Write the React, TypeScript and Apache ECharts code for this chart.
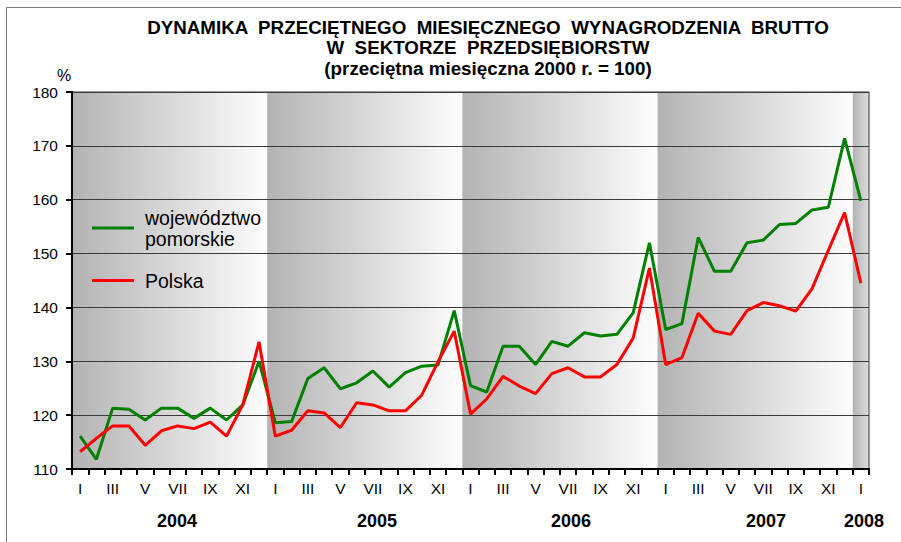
import React, { useEffect, useRef } from "react";
import * as echarts from "echarts";

const years = ["2004", "2005", "2006", "2007", "2008"];
const monthsPerYear = [12, 12, 12, 12, 1];
const romanMonths = ["I", "II", "III", "IV", "V", "VI", "VII", "VIII", "IX", "X", "XI", "XII"];

const pomorskie = [
  116.1, 111.8, 121.3, 121.1, 119.1, 121.3, 121.3, 119.4, 121.3, 119.1, 121.9, 130.0,
  118.6, 118.8, 126.8, 128.8, 124.9, 126.0, 128.2, 125.2, 127.9, 129.1, 129.3, 139.4,
  125.5, 124.3, 132.8, 132.8, 129.4, 133.7, 132.8, 135.3, 134.7, 135.0, 139.0, 152.0,
  135.9, 137.0, 153.0, 146.7, 146.7, 152.0, 152.5, 155.4, 155.6, 158.1, 158.6, 171.4,
  159.8,
];

const polska = [
  113.2, 115.7, 118.0, 118.0, 114.4, 117.1, 118.0, 117.5, 118.7, 116.1, 121.9, 133.6,
  116.1, 117.2, 120.8, 120.4, 117.7, 122.3, 121.9, 120.8, 120.8, 123.7, 129.9, 135.6,
  120.2, 123.0, 127.2, 125.4, 124.0, 127.7, 128.8, 127.1, 127.1, 129.4, 134.3, 147.3,
  129.4, 130.7, 138.9, 135.6, 135.0, 139.4, 140.9, 140.3, 139.3, 143.5, 150.6, 157.6,
  144.5,
];

const seriesNames = ["województwo\npomorskie", "Polska"];
const titleLines = [
  "DYNAMIKA  PRZECIĘTNEGO  MIESIĘCZNEGO  WYNAGRODZENIA  BRUTTO",
  "W  SEKTORZE  PRZEDSIĘBIORSTW",
  "(przeciętna miesięczna 2000 r. = 100)",
];
const yMin = 110;
const yMax = 180;
const yStep = 10;

const FONT = "'Liberation Sans', Arial, Helvetica, sans-serif";
const AXIS = "#000000";

export default function App() {
  const ref = useRef<HTMLDivElement>(null);

  useEffect(() => {
    if (!ref.current) return;
    const chart = echarts.init(ref.current, null, { renderer: "svg" });

    const categories: string[] = [];
    const bands: number[][] = [];
    let start = 0;
    years.forEach((y, i) => {
      for (let m = 0; m < monthsPerYear[i]; m++) categories.push(y + "-" + romanMonths[m]);
      bands.push([start, start + monthsPerYear[i], yMin, yMax, monthsPerYear[i]]);
      start += monthsPerYear[i];
    });
    const total = start;

    const yearX = [177, 377, 571, 766, 864];

    const graphics: any[] = [
      {
        type: "rect",
        shape: { x: 6.5, y: 7.5, width: 1200, height: 1200 },
        style: { fill: "none", stroke: "#7f7f7f", lineWidth: 1 },
        silent: true,
      },
      ...titleLines.map((t, i) => ({
        type: "text",
        x: 488,
        y: 27 + i * 20.5,
        style: {
          text: t,
          fill: "#000",
          font: "bold 18.8px " + FONT,
          textAlign: "center",
          textVerticalAlign: "middle",
        },
      })),
      {
        type: "text",
        x: 64,
        y: 75,
        style: {
          text: "%",
          fill: "#000",
          font: "16px " + FONT,
          textAlign: "center",
          textVerticalAlign: "middle",
        },
      },
      ...years.map((y, i) => ({
        type: "text",
        x: yearX[i],
        y: 521,
        style: {
          text: y,
          fill: "#000",
          font: "bold 18px " + FONT,
          textAlign: "center",
          textVerticalAlign: "middle",
        },
      })),
    ];

    chart.setOption({
      animation: false,
      backgroundColor: "#fff",
      textStyle: { fontFamily: FONT },
      grid: {
        left: 72,
        right: 32,
        top: 92,
        bottom: 73,
        show: true,
        borderColor: "#333",
        borderWidth: 1,
        backgroundColor: "transparent",
      },
      legend: {
        orient: "vertical",
        left: 92,
        top: 207,
        icon: "rect",
        itemWidth: 42,
        itemHeight: 3,
        itemGap: 21,
        padding: 0,
        data: seriesNames,
        textStyle: {
          fontSize: 19.5,
          lineHeight: 21,
          color: "#000",
          fontFamily: FONT,
          padding: [0, 0, 0, 6],
        },
      },
      xAxis: [
        {
          type: "category",
          data: categories,
          axisLine: { show: true, lineStyle: { color: AXIS, width: 2 } },
          axisTick: { show: true, interval: 0, length: 6, lineStyle: { color: AXIS, width: 2 } },
          axisLabel: {
            interval: 1,
            color: "#000",
            fontSize: 15.5,
            margin: 11,
            formatter: (v: string) => v.split("-")[1],
          },
        },
        {
          type: "value",
          min: 0,
          max: total,
          show: false,
        },
      ],
      yAxis: {
        type: "value",
        min: yMin,
        max: yMax,
        interval: yStep,
        axisLine: { show: true, lineStyle: { color: AXIS, width: 2 } },
        axisTick: { show: true, length: 6, lineStyle: { color: AXIS, width: 2 } },
        axisLabel: { color: "#000", fontSize: 15.5, margin: 14 },
        splitLine: { show: true, lineStyle: { color: "#3a3a3a", width: 1 } },
      },
      series: [
        {
          type: "custom",
          xAxisIndex: 1,
          yAxisIndex: 0,
          z: -1,
          silent: true,
          encode: { x: [0, 1], y: [2, 3] },
          data: bands,
          renderItem: (params: any, api: any) => {
            const p0 = api.coord([api.value(0), api.value(3)]);
            const p1 = api.coord([api.value(1), api.value(2)]);
            const full = api.value(4) >= 12;
            return {
              type: "rect",
              shape: { x: p0[0], y: p0[1], width: p1[0] - p0[0], height: p1[1] - p0[1] },
              style: {
                fill: new echarts.graphic.LinearGradient(0, 0, 1, 0, [
                  { offset: 0, color: "#b3b3b3" },
                  { offset: 1, color: full ? "#fdfdfd" : "#dcdcdc" },
                ]),
              },
            };
          },
        },
        {
          name: seriesNames[0],
          type: "line",
          data: pomorskie,
          showSymbol: false,
          z: 3,
          itemStyle: { color: "#008000" },
          lineStyle: { color: "#008000", width: 3 },
        },
        {
          name: seriesNames[1],
          type: "line",
          data: polska,
          showSymbol: false,
          z: 4,
          itemStyle: { color: "#ff0000" },
          lineStyle: { color: "#ff0000", width: 3 },
        },
      ],
      graphic: graphics,
    });

    return () => chart.dispose();
  }, []);

  return (
    <div
      ref={ref}
      style={{ position: "fixed", left: 0, top: 0, width: 901, height: 542 }}
    />
  );
}
